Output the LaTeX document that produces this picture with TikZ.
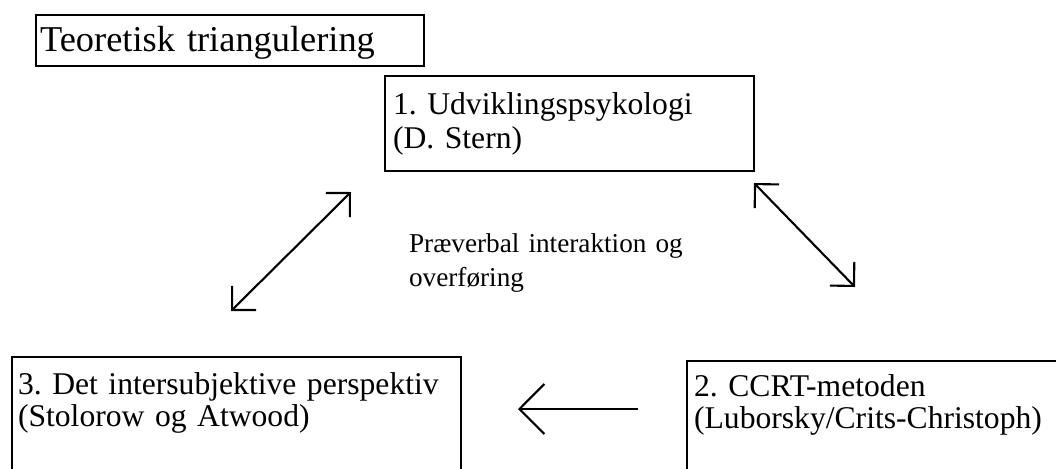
\documentclass[tikz,border=0pt]{standalone}
\usepackage{fontspec}
\setmainfont{Liberation Serif}
\usetikzlibrary{arrows.meta}
\frenchspacing
\begin{document}
\begin{tikzpicture}[x=0.02cm, y=-0.02cm, line width=1.2pt,
  box/.style={draw, rectangle, anchor=north west, align=left, inner ysep=0pt},
  bodyfont/.style={font=\fontsize{18pt}{19.9pt}\selectfont},
  lowfont/.style={font=\fontsize{18pt}{18.2pt}\selectfont},
  twoway/.style={{Straight Barb[length=9.7pt,width=19.4pt]}-{Straight Barb[length=9.7pt,width=19.4pt]}},
  oneway/.style={-{Straight Barb[length=14.2pt,width=28.5pt]}}]
\useasboundingbox (0,0) rectangle (1056,468);
\node[box, font=\fontsize{20.7pt}{22pt}\selectfont, inner xsep=2.3pt, text width=216.3pt, text height=20.5pt, text depth=8.5pt] (title) at (35,14) {Teoretisk triangulering};
\node[box, bodyfont, inner xsep=4.55pt, text width=200.9pt, text height=21.6pt, text depth=32.4pt] (stern) at (384,75) {1. Udviklingspsykologi\\(D. Stern)};
\node[box, lowfont, inner xsep=4pt, text width=216.3pt, text height=19.9pt, text depth=71.1pt] (ccrt) at (686,360) {2. CCRT-metoden\\(Luborsky/Crits-Christoph)};
\node[box, lowfont, inner xsep=3.4pt, text width=248.7pt, text height=21.1pt, text depth=72.3pt] (inter) at (11,356) {3. Det intersubjektive perspektiv\\(Stolorow og Atwood)};
\node[font=\fontsize{15.5pt}{19.9pt}\selectfont, anchor=base west, inner sep=0pt, text width=171pt, align=left] (praeverbal) at (408,252) {Præverbal interaktion og\\overføring};
\coordinate (interend) at (231,311);
\coordinate (sternleft) at (351,192);
\coordinate (sternright) at (754,183);
\coordinate (ccrtend) at (855,287);
\coordinate (ccrtleft) at (638,409);
\coordinate (interright) at (518,409);
\draw[twoway] (interend) -- (sternleft);
\draw[twoway] (sternright) -- (ccrtend);
\draw[oneway] (ccrtleft) -- (interright);
\end{tikzpicture}
\end{document}
